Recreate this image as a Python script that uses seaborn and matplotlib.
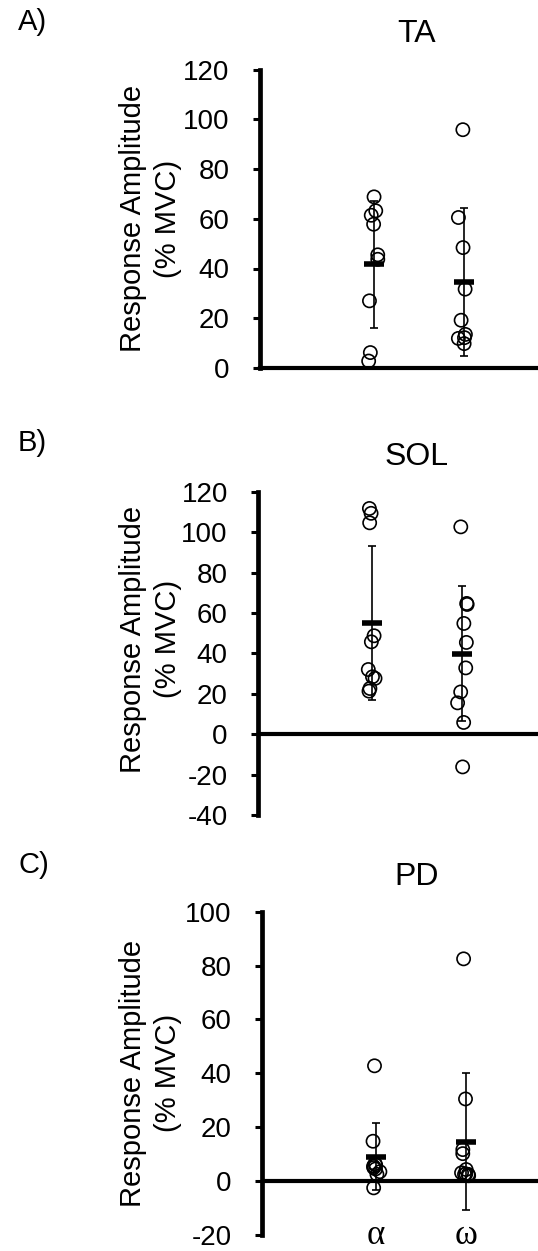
import numpy as np
import pandas as pd
import matplotlib
matplotlib.use("Agg")
import matplotlib.pyplot as plt
import seaborn as sns

# ---------------- data ----------------
categories = ["α", "ω"]
titles = ["TA", "SOL", "PD"]
panel_letters = ["A)", "B)", "C)"]
ylabel_text = "Response Amplitude\n(% MVC)"

ta_alpha = [68.8, 63.2, 61.4, 57.8, 45.5, 43.7, 27.0, 6.2, 2.8]
ta_omega = [95.8, 60.5, 48.4, 31.7, 19.2, 13.5, 12.2, 11.9, 9.8]
sol_alpha = [111.7, 109.3, 104.6, 48.7, 45.7, 32.0, 28.4, 27.6, 22.6, 21.3]
sol_omega = [102.6, 64.7, 64.2, 54.8, 45.4, 32.8, 20.9, 15.5, 5.8, -16.2]
pd_alpha = [42.8, 14.8, 6.5, 6.0, 5.5, 5.0, 4.5, 3.5, 2.5, -2.5]
pd_omega = [82.5, 30.5, 11.7, 10.2, 4.3, 3.1, 2.7, 2.5, 2.5, 2.0]

ta_mean = [41.7, 34.6]
ta_sd = [25.5, 29.8]
sol_mean = [55.1, 39.9]
sol_sd = [38.0, 33.4]
pd_mean = [9.0, 14.6]
pd_sd = [12.4, 25.4]

ta_ticks = [0, 20, 40, 60, 80, 100, 120]
sol_ticks = [-40, -20, 0, 20, 40, 60, 80, 100, 120]
pd_ticks = [-20, 0, 20, 40, 60, 80, 100]

# ---------------- style ----------------
plt.rcParams["font.family"] = ["Liberation Sans", "DejaVu Sans"]
plt.rcParams["axes.unicode_minus"] = False

W, H = 538, 1251
fig = plt.figure(figsize=(W / 100, H / 100), dpi=100)

# layout in pixels: (left, top, bottom, label_y_frac, letter_baseline)
layout = [
    (259.5, 69.5, 368.0, 0.5, 30),
    (258.0, 491.7, 815.0, 0.544, 451),
    (262.0, 911.7, 1235.0, 0.5, 873),
]
panels = [
    (ta_alpha, ta_omega, ta_mean, ta_sd, ta_ticks, (0, 120)),
    (sol_alpha, sol_omega, sol_mean, sol_sd, sol_ticks, (-40, 120)),
    (pd_alpha, pd_omega, pd_mean, pd_sd, pd_ticks, (-20, 100)),
]

np.random.seed(3)
cat_px = 90.0      # pixels per category unit
first_cat_px = 114.0

for i, ((a_vals, o_vals, mean, sd, ticks, ylim), (lpx, tpx, bpx, ly, lb)) in enumerate(zip(panels, layout)):
    wpx = W - lpx
    hpx = bpx - tpx
    ax = fig.add_axes([lpx / W, (H - bpx) / H, wpx / W, hpx / H])

    df = pd.DataFrame({
        "group": [categories[0]] * len(a_vals) + [categories[1]] * len(o_vals),
        "value": list(a_vals) + list(o_vals),
    })
    sns.stripplot(data=df, x="group", y="value", order=categories, jitter=0.06,
                  size=9.5, color="black", linewidth=1.2, ax=ax, zorder=3)
    for coll in ax.collections:
        coll.set_facecolor("none")
        coll.set_edgecolor("black")
        coll.set_linewidth(1.2)

    xpos = np.arange(len(categories))
    ax.errorbar(xpos, mean, yerr=sd, fmt="none", ecolor="black", elinewidth=1.2,
                capsize=3, capthick=1.2, zorder=4)
    ax.plot(xpos, mean, linestyle="none", marker="_", color="black",
            ms=15, mew=4.0, zorder=5)

    xmin = -first_cat_px / cat_px
    ax.set_xlim(xmin, xmin + wpx / cat_px)
    ax.set_ylim(*ylim)
    ax.set_yticks(ticks)
    ax.set_yticklabels([str(t) for t in ticks], fontsize=20)
    ax.tick_params(axis="y", direction="out", length=4.7, width=2.2, pad=17, color="black")

    for s in ["top", "right"]:
        ax.spines[s].set_visible(False)
    ax.spines["left"].set_linewidth(3.4)
    if i == 0:
        ax.spines["bottom"].set_linewidth(3.0)
    else:
        ax.spines["bottom"].set_visible(False)
        ax.axhline(0, color="black", lw=3.0, zorder=2)

    ax.set_xlabel("")
    ax.set_ylabel(ylabel_text, fontsize=21, linespacing=1.3)
    ax.yaxis.set_label_coords((182 - lpx) / wpx, ly)

    ax.set_xticks(xpos)
    if i == 2:
        ax.set_xticklabels(categories, fontsize=25, fontfamily="Liberation Serif", va="baseline")
        ax.tick_params(axis="x", length=0, pad=6.5)
    else:
        ax.tick_params(axis="x", length=0, labelbottom=False)

    ax.text((417 - lpx) / wpx, 1 + 27 / hpx, titles[i], transform=ax.transAxes,
            ha="center", va="baseline", fontsize=23)
    fig.text(18 / W, 1 - lb / H, panel_letters[i], ha="left", va="baseline", fontsize=21)

fig.savefig("out.png", dpi=100)
